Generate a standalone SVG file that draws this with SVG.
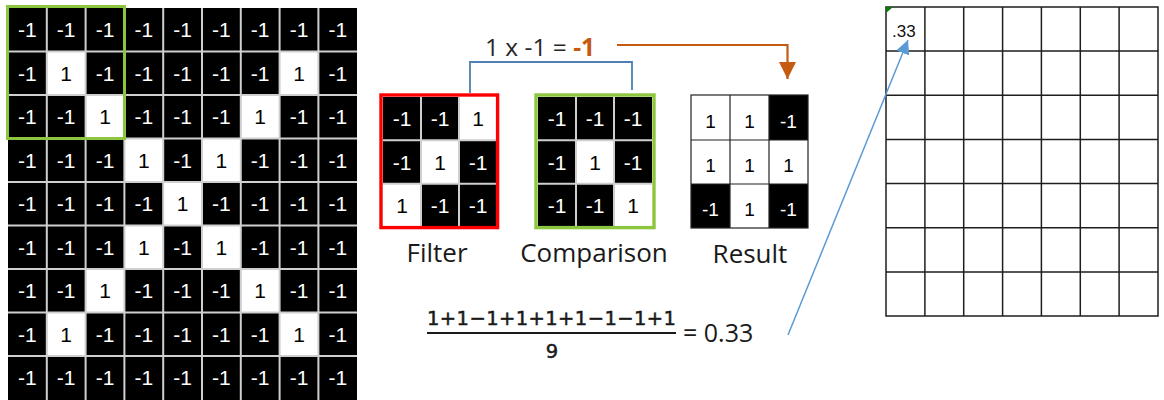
<svg xmlns="http://www.w3.org/2000/svg" width="1164" height="400" viewBox="0 0 1164 400">
<defs>
<style>
.cell{font-family:"Liberation Sans",Arial,sans-serif;font-size:21px;text-anchor:middle;fill:#fff}
.k{fill:#000}
.gap{fill:none;stroke:#cfcfcf;stroke-width:2}
.lbl{font-family:"Open Sans","Noto Sans",sans-serif;font-size:26px;fill:#1a1a1a;text-anchor:middle}
.math{font-family:"DejaVu Sans",sans-serif;font-size:19.5px;fill:#1a1a1a;stroke:#1a1a1a;stroke-width:0.5}
.grid{fill:none;stroke:#1e1e1e;stroke-width:1.5}
</style>
<marker id="orangeHead" viewBox="0 0 10 10" refX="10" refY="5" markerWidth="17" markerHeight="17" markerUnits="userSpaceOnUse" orient="auto">
<path d="M0 0L10 5L0 10Z" fill="#c55a11"/>
</marker>
<marker id="blueHead" viewBox="0 0 10 10" refX="10" refY="5" markerWidth="14" markerHeight="14" markerUnits="userSpaceOnUse" orient="auto">
<path d="M0 0L10 5L0 10Z" fill="#5b9bd5"/>
</marker>
</defs>
<rect width="1164" height="400" fill="#fff"/>

<g id="input-image">
<rect x="8" y="8" width="349" height="392" fill="#000"/>
<g fill="#fff">
<rect x="46.8" y="51.5" width="38.8" height="43.5"/>
<rect x="279.6" y="51.5" width="38.8" height="43.5"/>
<rect x="85.6" y="95" width="38.8" height="43.5"/>
<rect x="240.8" y="95" width="38.8" height="43.5"/>
<rect x="124.4" y="138.5" width="38.8" height="43.5"/>
<rect x="202" y="138.5" width="38.8" height="43.5"/>
<rect x="163.2" y="182" width="38.8" height="43.5"/>
<rect x="124.4" y="225.5" width="38.8" height="43.5"/>
<rect x="202" y="225.5" width="38.8" height="43.5"/>
<rect x="85.6" y="269" width="38.8" height="43.5"/>
<rect x="240.8" y="269" width="38.8" height="43.5"/>
<rect x="46.8" y="312.5" width="38.8" height="43.5"/>
<rect x="279.6" y="312.5" width="38.8" height="43.5"/>
</g>
<path class="gap" d="M46.8 8V400M85.6 8V400M124.4 8V400M163.2 8V400M202 8V400M240.8 8V400M279.6 8V400M318.4 8V400M8 51.5H357M8 95H357M8 138.5H357M8 182H357M8 225.5H357M8 269H357M8 312.5H357M8 356H357"/>
<text class="cell" y="37"><tspan x="27.4">-1</tspan><tspan x="66.2">-1</tspan><tspan x="105">-1</tspan><tspan x="143.8">-1</tspan><tspan x="182.6">-1</tspan><tspan x="221.4">-1</tspan><tspan x="260.2">-1</tspan><tspan x="299">-1</tspan><tspan x="337.8">-1</tspan></text>
<text class="cell" y="80.5"><tspan x="27.4">-1</tspan><tspan x="66.2" class="k">1</tspan><tspan x="105">-1</tspan><tspan x="143.8">-1</tspan><tspan x="182.6">-1</tspan><tspan x="221.4">-1</tspan><tspan x="260.2">-1</tspan><tspan x="299" class="k">1</tspan><tspan x="337.8">-1</tspan></text>
<text class="cell" y="124"><tspan x="27.4">-1</tspan><tspan x="66.2">-1</tspan><tspan x="105" class="k">1</tspan><tspan x="143.8">-1</tspan><tspan x="182.6">-1</tspan><tspan x="221.4">-1</tspan><tspan x="260.2" class="k">1</tspan><tspan x="299">-1</tspan><tspan x="337.8">-1</tspan></text>
<text class="cell" y="167.5"><tspan x="27.4">-1</tspan><tspan x="66.2">-1</tspan><tspan x="105">-1</tspan><tspan x="143.8" class="k">1</tspan><tspan x="182.6">-1</tspan><tspan x="221.4" class="k">1</tspan><tspan x="260.2">-1</tspan><tspan x="299">-1</tspan><tspan x="337.8">-1</tspan></text>
<text class="cell" y="211"><tspan x="27.4">-1</tspan><tspan x="66.2">-1</tspan><tspan x="105">-1</tspan><tspan x="143.8">-1</tspan><tspan x="182.6" class="k">1</tspan><tspan x="221.4">-1</tspan><tspan x="260.2">-1</tspan><tspan x="299">-1</tspan><tspan x="337.8">-1</tspan></text>
<text class="cell" y="254.5"><tspan x="27.4">-1</tspan><tspan x="66.2">-1</tspan><tspan x="105">-1</tspan><tspan x="143.8" class="k">1</tspan><tspan x="182.6">-1</tspan><tspan x="221.4" class="k">1</tspan><tspan x="260.2">-1</tspan><tspan x="299">-1</tspan><tspan x="337.8">-1</tspan></text>
<text class="cell" y="298"><tspan x="27.4">-1</tspan><tspan x="66.2">-1</tspan><tspan x="105" class="k">1</tspan><tspan x="143.8">-1</tspan><tspan x="182.6">-1</tspan><tspan x="221.4">-1</tspan><tspan x="260.2" class="k">1</tspan><tspan x="299">-1</tspan><tspan x="337.8">-1</tspan></text>
<text class="cell" y="341.5"><tspan x="27.4">-1</tspan><tspan x="66.2" class="k">1</tspan><tspan x="105">-1</tspan><tspan x="143.8">-1</tspan><tspan x="182.6">-1</tspan><tspan x="221.4">-1</tspan><tspan x="260.2">-1</tspan><tspan x="299" class="k">1</tspan><tspan x="337.8">-1</tspan></text>
<text class="cell" y="385"><tspan x="27.4">-1</tspan><tspan x="66.2">-1</tspan><tspan x="105">-1</tspan><tspan x="143.8">-1</tspan><tspan x="182.6">-1</tspan><tspan x="221.4">-1</tspan><tspan x="260.2">-1</tspan><tspan x="299">-1</tspan><tspan x="337.8">-1</tspan></text>
<rect x="7.5" y="6.5" width="117" height="132" fill="none" stroke="#8cc63f" stroke-width="3"/>
</g>

<g id="filter">
<rect x="383" y="97" width="114" height="130" fill="#000"/>
<rect x="459" y="97" width="38" height="43.3" fill="#fff"/>
<rect x="421" y="140.3" width="38" height="43.4" fill="#fff"/>
<rect x="383" y="183.7" width="38" height="43.3" fill="#fff"/>
<path class="gap" d="M421 97V227M459 97V227M383 140.3H497M383 183.7H497"/>
<text class="cell" y="126"><tspan x="402">-1</tspan><tspan x="440">-1</tspan><tspan x="478" class="k">1</tspan></text>
<text class="cell" y="169.5"><tspan x="402">-1</tspan><tspan x="440" class="k">1</tspan><tspan x="478">-1</tspan></text>
<text class="cell" y="213"><tspan x="402" class="k">1</tspan><tspan x="440">-1</tspan><tspan x="478">-1</tspan></text>
<rect x="381" y="95" width="116.6" height="132.6" fill="none" stroke="#ff0000" stroke-width="3.4"/>
<text class="lbl" x="437" y="262">Filter</text>
</g>

<g id="comparison">
<rect x="538" y="97" width="114" height="130" fill="#000"/>
<rect x="576" y="140.3" width="38" height="43.4" fill="#fff"/>
<rect x="614" y="183.7" width="38" height="43.3" fill="#fff"/>
<path class="gap" d="M576 97V227M614 97V227M538 140.3H652M538 183.7H652"/>
<text class="cell" y="126"><tspan x="557">-1</tspan><tspan x="595">-1</tspan><tspan x="633">-1</tspan></text>
<text class="cell" y="169.5"><tspan x="557">-1</tspan><tspan x="595" class="k">1</tspan><tspan x="633">-1</tspan></text>
<text class="cell" y="213"><tspan x="557">-1</tspan><tspan x="595">-1</tspan><tspan x="633" class="k">1</tspan></text>
<rect x="536" y="95" width="118" height="132.6" fill="none" stroke="#8cc63f" stroke-width="3.4"/>
<text class="lbl" x="594" y="262">Comparison</text>
</g>

<g id="result">
<rect x="769" y="95" width="39" height="45" fill="#000"/>
<rect x="691" y="184" width="39" height="44" fill="#000"/>
<rect x="769" y="184" width="39" height="44" fill="#000"/>
<rect x="691" y="95" width="117" height="133" fill="none" stroke="#222" stroke-width="1.2"/>
<path d="M730 95V228M769 95V228M691 140H808M691 184H808" fill="none" stroke="#222" stroke-width="1.2"/>
<text class="cell k" y="128" style="font-size:19px"><tspan x="710.5">1</tspan><tspan x="749.5">1</tspan><tspan x="788.5" style="fill:#fff">-1</tspan></text>
<text class="cell k" y="172" style="font-size:19px"><tspan x="710.5">1</tspan><tspan x="749.5">1</tspan><tspan x="788.5">1</tspan></text>
<text class="cell k" y="215.5" style="font-size:19px"><tspan x="710.5" style="fill:#fff">-1</tspan><tspan x="749.5">1</tspan><tspan x="788.5" style="fill:#fff">-1</tspan></text>
<text class="lbl" x="750" y="263">Result</text>
</g>

<g id="product-label">
<text x="485" y="56" style="font-family:'Open Sans','Noto Sans',sans-serif;font-size:24.5px;fill:#262626">1 x -1 = <tspan style="fill:#c55a11;font-weight:bold">-1</tspan></text>
</g>

<g id="formula">
<text class="math" x="551.5" y="325" text-anchor="middle" textLength="249" lengthAdjust="spacing">1+1−1+1+1+1−1−1+1</text>
<line x1="427" y1="333" x2="676" y2="333" stroke="#1a1a1a" stroke-width="2.2"/>
<text class="math" x="552" y="358" text-anchor="middle">9</text>
<text x="683" y="342" style="font-family:'Open Sans','Noto Sans',sans-serif;font-size:25px;fill:#1a1a1a">= 0.33</text>
</g>

<g id="feature-map">
<path class="grid" d="M886 7H1158V316H886ZM924.9 7V316M963.7 7V316M1002.6 7V316M1041.4 7V316M1080.3 7V316M1119.1 7V316M886 51.1H1158M886 95.3H1158M886 139.4H1158M886 183.6H1158M886 227.7H1158M886 271.9H1158"/>
<path d="M886 7H893L886 13Z" fill="#0a7a0a"/>
<text x="892" y="37" style="font-family:'Liberation Sans',Arial,sans-serif;font-size:17px;fill:#111">.33</text>
</g>

<g id="connectors">
<path d="M470 93V62H632V90" fill="none" stroke="#4f7fb3" stroke-width="1.8"/>
<path d="M617 45H787.5V79" fill="none" stroke="#c55a11" stroke-width="2.2" marker-end="url(#orangeHead)"/>
<path d="M788 335L908 40" fill="none" stroke="#5b9bd5" stroke-width="1.5" marker-end="url(#blueHead)"/>
</g>
</svg>
